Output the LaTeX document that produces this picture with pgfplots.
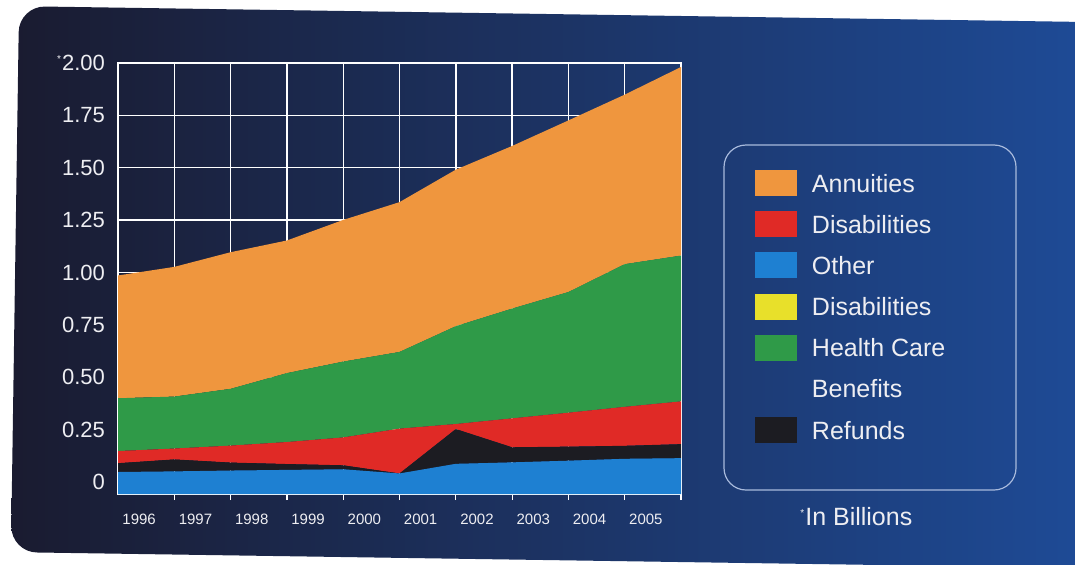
\documentclass[border=0pt]{standalone}
\usepackage{pgfplots}
\pgfplotsset{compat=1.18}
\usepackage{pgfplotstable}
\usepackage{fontspec}
\setmainfont{Liberation Sans}

\definecolor{orangeC}{HTML}{EF963E}
\definecolor{greenC}{HTML}{2F9A48}
\definecolor{redC}{HTML}{E02A26}
\definecolor{blueC}{HTML}{1E80D2}
\definecolor{blackC}{HTML}{1C1C22}
\definecolor{yellowC}{HTML}{E8E02A}
\definecolor{bgL}{HTML}{1A1B30}
\definecolor{bgM}{HTML}{1C2858}
\definecolor{bgR}{HTML}{1E4C99}
\definecolor{boxC}{HTML}{A8BADC}
\definecolor{txtC}{HTML}{EEEEF2}

% stacked amounts (in billions); "base" is the invisible offset of the plot floor
\pgfplotstableread{
x  base    oth    ref    dis    hc     ann
0  -0.057  0.105  0.042  0.058  0.252  0.586
1  -0.057  0.108  0.057  0.052  0.248  0.619
2  -0.057  0.112  0.038  0.081  0.271  0.652
3  -0.057  0.115  0.028  0.105  0.329  0.633
4  -0.057  0.118  0.019  0.133  0.362  0.676
5  -0.057  0.098  0.000  0.214  0.366  0.715
6  -0.057  0.144  0.166  0.024  0.467  0.747
7  -0.057  0.151  0.072  0.138  0.524  0.776
8  -0.057  0.159  0.067  0.162  0.576  0.819
9  -0.057  0.168  0.062  0.186  0.681  0.809
10 -0.057  0.171  0.067  0.204  0.696  0.900
}\datatable

\begin{document}
\begin{tikzpicture}
\begin{scope}[x=0.5pt,y=0.5pt]
\useasboundingbox (0,0) rectangle (1075,564);
\fill[white] (0,0) rectangle (1075,564);
\begin{scope}[rotate around={-0.85:(545,282)}]
\shade[left color=bgL, middle color=bgM, right color=bgR, rounded corners=13pt]
  (15,4) rectangle (1110,550);
\end{scope}
\draw[boxC, line width=0.6pt, rounded corners=11pt] (724,74) rectangle (1016,419);
\node[anchor=base west, text=txtC, font=\fontsize{12.5}{14}\selectfont, inner sep=0pt]
  at (800,39) {\textsuperscript{\tiny*}In Billions};
\end{scope}

\begin{axis}[
  at={(59pt,35pt)}, anchor=south west,
  scale only axis, width=281.5pt, height=215.5pt,
  xmin=0, xmax=10, ymin=-0.057, ymax=2.0,
  stack plots=y,
  axis line style={white, line width=0.8pt},
  xtick={0.5,1.5,...,9.5},
  xticklabels={1996,1997,1998,1999,2000,2001,2002,2003,2004,2005},
  minor xtick={1,2,...,10},
  xtick pos=lower, ytick pos=left,
  major tick length=0pt,
  minor tick length=3pt,
  tick align=outside,
  minor tick style={white, line width=0.6pt},
  ytick={0,0.25,...,2.0},
  yticklabels={0,0.25,0.50,0.75,1.00,1.25,1.50,1.75,{\textsuperscript{\tiny*}2.00}},
  xmajorgrids=false, xminorgrids=true, ymajorgrids=true,
  major grid style={white, line width=0.7pt},
  minor grid style={white, line width=0.7pt},
  yticklabel style={font=\fontsize{11}{13}\selectfont, text=txtC, xshift=-3pt},
  xticklabel style={font=\fontsize{7.5}{9}\selectfont, text=txtC, yshift=-6.5pt, xshift=-3.5pt},
  legend image code/.code={\fill[#1] (0pt,-5.7pt) rectangle (21pt,7.3pt);},
  legend cell align=left,
  legend style={at={(axis description cs:1.1314,0.7517)}, anchor=north west,
    draw=none, fill=none, inner sep=0pt, outer sep=0pt, row sep=6pt, column sep=5.5pt,
    font=\fontsize{12.5}{13.5}\selectfont, text=txtC},
]
\addplot[draw=none, forget plot] table[x=x,y=base]{\datatable};
\addplot[fill=blueC, draw=none, forget plot] table[x=x,y=oth]{\datatable} \closedcycle;
\addplot[fill=blackC, draw=none, forget plot] table[x=x,y=ref]{\datatable} \closedcycle;
\addplot[fill=redC, draw=none, forget plot] table[x=x,y=dis]{\datatable} \closedcycle;
\addplot[fill=greenC, draw=none, forget plot] table[x=x,y=hc]{\datatable} \closedcycle;
\addplot[fill=orangeC, draw=none, forget plot] table[x=x,y=ann]{\datatable} \closedcycle;

\addlegendimage{fill=orangeC, draw=none}
\addlegendentry{Annuities}
\addlegendimage{fill=redC, draw=none}
\addlegendentry{Disabilities}
\addlegendimage{fill=blueC, draw=none}
\addlegendentry{Other}
\addlegendimage{fill=yellowC, draw=none}
\addlegendentry{Disabilities}
\addlegendimage{fill=greenC, draw=none}
\addlegendentry{Health Care}
\addlegendimage{empty legend}
\addlegendentry{Benefits}
\addlegendimage{fill=blackC, draw=none}
\addlegendentry{Refunds}
\end{axis}
\end{tikzpicture}
\end{document}
